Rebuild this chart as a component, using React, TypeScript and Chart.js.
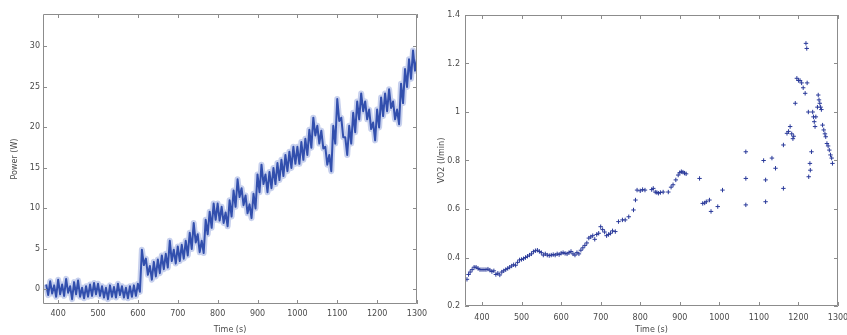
import React, { useEffect, useRef } from 'react';
import { Chart, registerables } from 'chart.js';

Chart.register(...registerables);

// ---------- Data: left panel (power, sampled every 5 s from 370 s) ----------
const POWER_T0 = 370;
const POWER_DT = 5;
const POWER = [
  0.6, -0.7, 1.0, -0.5, 0.5, -0.9, 1.2, -0.6, 0.6, -0.8,
  1.3, -0.4, 0.4, -1.2, 0.9, -0.6, 1.1, -0.9, 0.2, -1.1,
  0.4, -0.9, 0.6, -0.8, 0.8, -0.6, 0.7, -0.8, 0.4, -1.0,
  0.2, -1.2, 0.5, -0.9, 0.3, -1.0, 0.7, -0.7, 0.4, -1.0,
  0.2, -1.1, 0.4, -0.9, 0.5, -0.8, 0.7, -0.3, 4.9, 3.0,
  3.8, 1.8, 2.9, 1.2, 3.4, 1.6, 3.7, 2.0, 4.2, 2.5,
  4.4, 2.7, 6.0, 3.5, 4.9, 3.2, 5.3, 3.5, 5.5, 3.8,
  6.0, 4.2, 7.0, 5.0, 8.2, 5.8, 6.8, 4.6, 6.0, 4.5,
  8.6, 6.8, 9.6, 7.6, 10.6, 8.6, 10.6, 8.5, 10.2, 8.2,
  9.5, 7.8, 11.0, 9.0, 12.2, 10.2, 13.6, 11.4, 12.5, 10.4,
  11.6, 9.4, 10.5, 8.8, 11.8, 10.0, 14.2, 12.0, 15.4, 13.0,
  14.2, 12.0, 14.5, 12.5, 15.0, 13.0, 15.6, 13.5, 16.0, 14.0,
  16.6, 14.6, 17.0, 15.0, 17.6, 15.5, 17.6, 15.5, 18.2, 16.0,
  18.6, 16.6, 19.7, 17.5, 21.2, 19.0, 20.2, 18.0, 19.6, 17.4,
  17.6, 15.4, 16.6, 14.6, 20.2, 18.0, 23.5, 20.8, 21.2, 18.8,
  18.8, 16.6, 20.2, 18.0, 21.8, 19.4, 23.2, 21.0, 24.2, 22.0,
  23.2, 21.0, 22.2, 19.8, 20.6, 18.4, 22.2, 20.0, 23.7, 21.4,
  24.2, 22.0, 24.7, 22.4, 23.2, 21.0, 22.2, 20.4, 25.4, 23.0,
  27.2, 25.0, 28.4, 26.0, 29.5, 27.0, 28.5,
];

// ---------- Data: right panel (VO2 scatter) ----------
const VO2_T = [
  362, 366, 370, 375, 380, 385, 390, 395, 400, 405,
  410, 415, 420, 425, 430, 435, 440, 445, 450, 455,
  460, 465, 470, 475, 480, 485, 490, 495, 500, 505,
  510, 515, 520, 525, 530, 535, 540, 545, 550, 555,
  560, 565, 570, 575, 580, 585, 590, 595, 600, 605,
  610, 615, 620, 625, 630, 635, 640, 645, 650, 655,
  660, 665, 670, 675, 680, 685, 690, 695, 700, 705,
  710, 715, 720, 725, 730, 737, 745, 755, 762, 771,
  783, 788, 792, 800, 806, 812, 829, 833, 838, 842,
  846, 851, 858, 871, 878, 883, 890, 896, 900, 904,
  908, 912, 916, 950, 958, 963, 967, 975, 979, 996,
  1008, 1067, 1067, 1067, 1112, 1117, 1117, 1133, 1142, 1162,
  1162, 1171, 1175, 1179, 1183, 1186, 1188, 1192, 1196, 1200,
  1204, 1208, 1212, 1217, 1219, 1221, 1222, 1225, 1226, 1229,
  1230, 1233, 1236, 1238, 1240, 1242, 1244, 1248, 1250, 1252,
  1254, 1256, 1258, 1261, 1264, 1267, 1269, 1272, 1275, 1278,
  1281, 1284, 1286,
];
const VO2 = [
  0.31, 0.33, 0.34, 0.35, 0.36, 0.36, 0.355, 0.35, 0.35, 0.35,
  0.35, 0.352, 0.348, 0.342, 0.345, 0.33, 0.335, 0.328, 0.34, 0.345,
  0.35, 0.355, 0.36, 0.365, 0.37, 0.368, 0.38, 0.39, 0.392, 0.395,
  0.4, 0.405, 0.41, 0.415, 0.424, 0.428, 0.43, 0.425, 0.42, 0.41,
  0.415, 0.41, 0.408, 0.41, 0.412, 0.41, 0.415, 0.412, 0.418, 0.42,
  0.417, 0.415, 0.42, 0.425, 0.415, 0.41, 0.42, 0.415, 0.43, 0.44,
  0.45, 0.46, 0.48, 0.485, 0.49, 0.475, 0.495, 0.5, 0.527, 0.515,
  0.505, 0.49, 0.495, 0.5, 0.51, 0.507, 0.548, 0.555, 0.555, 0.568,
  0.596, 0.637, 0.678, 0.675, 0.68, 0.678, 0.68, 0.685, 0.67, 0.668,
  0.665, 0.668, 0.67, 0.67, 0.69, 0.7, 0.72, 0.74, 0.75, 0.754,
  0.752, 0.748, 0.745, 0.726, 0.623, 0.625, 0.63, 0.637, 0.59, 0.61,
  0.678, 0.836, 0.726, 0.617, 0.8, 0.72, 0.63, 0.81, 0.768, 0.685,
  0.864, 0.912, 0.92, 0.94, 0.91, 0.89, 0.9, 1.036, 1.139, 1.13,
  1.13, 1.12, 1.1, 1.077, 1.283, 1.262, 1.12, 1.0, 0.733, 0.788,
  0.76, 0.836, 1.0, 0.98, 0.96, 0.94, 0.98, 1.02, 1.07, 1.05,
  1.036, 1.02, 1.01, 0.946, 0.926, 0.91, 0.898, 0.87, 0.86, 0.843,
  0.823, 0.81, 0.788,
];

const X_TICK_STEP = 100;
const POWER_Y_STEP = 5;
const VO2_Y_STEP = 0.2;

const FONT_FAMILY = "'DejaVu Sans', sans-serif";
const TEXT_COLOR = '#4a4a4a';
const FRAME_COLOR = '#8c8c8c';

const plainNumber = (v: any) => String(Math.round(Number(v) * 1000) / 1000);

// MATLAB-like frame: full box with inward tick marks on all four sides
const framePlugin = {
  id: 'matlabFrame',
  afterDatasetsDraw(chart: any) {
    const { ctx, chartArea: a, scales } = chart;
    const x = scales.x;
    const y = scales.y;
    const len = 4;
    ctx.save();
    ctx.strokeStyle = FRAME_COLOR;
    ctx.lineWidth = 1;
    ctx.beginPath();
    ctx.rect(Math.round(a.left) + 0.5, Math.round(a.top) + 0.5, Math.round(a.width) - 1, Math.round(a.height) - 1);
    for (const t of x.ticks) {
      const px = Math.round(x.getPixelForValue(t.value)) + 0.5;
      ctx.moveTo(px, a.bottom);
      ctx.lineTo(px, a.bottom - len);
      ctx.moveTo(px, a.top);
      ctx.lineTo(px, a.top + len);
    }
    for (const t of y.ticks) {
      const py = Math.round(y.getPixelForValue(t.value)) + 0.5;
      ctx.moveTo(a.left, py);
      ctx.lineTo(a.left + len, py);
      ctx.moveTo(a.right, py);
      ctx.lineTo(a.right - len, py);
    }
    ctx.stroke();
    ctx.restore();
  },
};

function baseScales(opts: {
  xMin: number; xMax: number; yMin: number; yMax: number; yStep: number;
  yWidth: number; xHeight: number; yPad: number; xPad: number; yTitle: string; yTitlePad: number;
}) {
  const font = { family: FONT_FAMILY, size: 8 };
  return {
    x: {
      type: 'linear',
      min: opts.xMin,
      max: opts.xMax,
      grid: { display: false, drawTicks: false },
      border: { display: false },
      ticks: {
        stepSize: X_TICK_STEP,
        includeBounds: false,
        autoSkip: false,
        maxRotation: 0,
        color: TEXT_COLOR,
        font,
        padding: opts.xPad,
        callback: plainNumber,
      },
      title: {
        display: true,
        text: 'Time (s)',
        color: TEXT_COLOR,
        font,
        padding: { top: 0, bottom: 0 },
      },
      afterFit: (s: any) => {
        s.height = opts.xHeight;
        s.paddingLeft = 0;
        s.paddingRight = 0;
      },
    },
    y: {
      type: 'linear',
      min: opts.yMin,
      max: opts.yMax,
      grid: { display: false, drawTicks: false },
      border: { display: false },
      ticks: {
        stepSize: opts.yStep,
        includeBounds: false,
        color: TEXT_COLOR,
        font,
        padding: opts.yPad,
        callback: plainNumber,
      },
      title: {
        display: true,
        text: opts.yTitle,
        color: TEXT_COLOR,
        font,
        padding: { top: opts.yTitlePad, bottom: 0 },
      },
      afterFit: (s: any) => {
        s.width = opts.yWidth;
        s.paddingTop = 0;
        s.paddingBottom = 0;
      },
    },
  };
}

function PowerChart() {
  const ref = useRef<HTMLCanvasElement | null>(null);
  useEffect(() => {
    const pts = POWER.map((v, i) => ({ x: POWER_T0 + i * POWER_DT, y: v }));
    const chart = new Chart(ref.current as HTMLCanvasElement, {
      type: 'line',
      data: {
        datasets: [
          {
            data: pts,
            borderColor: 'rgba(70,100,195,0.3)',
            borderWidth: 6,
            borderJoinStyle: 'round',
            pointRadius: 0,
            tension: 0,
          },
          {
            data: pts,
            borderColor: '#2a47a4',
            borderWidth: 2,
            borderJoinStyle: 'round',
            pointRadius: 0,
            tension: 0,
          },
        ],
      },
      options: {
        responsive: false,
        animation: false,
        events: [],
        layout: { padding: { top: 14, right: 23, bottom: 0, left: 0 } },
        plugins: { legend: { display: false }, tooltip: { enabled: false } },
        scales: baseScales({
          xMin: 362, xMax: 1300, yMin: -1.8, yMax: 34, yStep: POWER_Y_STEP,
          yWidth: 43, xHeight: 31, yPad: 3, xPad: 5, yTitle: 'Power (W)', yTitlePad: 10,
        }) as any,
      },
      plugins: [framePlugin],
    });
    return () => chart.destroy();
  }, []);
  return <canvas ref={ref} width={440} height={335} style={{ position: 'absolute', left: 0, top: 0 }} />;
}

function Vo2Chart() {
  const ref = useRef<HTMLCanvasElement | null>(null);
  useEffect(() => {
    const pts = VO2_T.map((t, i) => ({ x: t, y: VO2[i] }));
    const chart = new Chart(ref.current as HTMLCanvasElement, {
      type: 'scatter',
      data: {
        datasets: [
          {
            data: pts,
            pointStyle: 'cross',
            pointRadius: 2.2,
            pointBorderWidth: 1,
            borderColor: '#2a3a9a',
            backgroundColor: '#2a3a9a',
          },
        ],
      },
      options: {
        responsive: false,
        animation: false,
        events: [],
        layout: { padding: { top: 15, right: 9, bottom: 0, left: 0 } },
        plugins: { legend: { display: false }, tooltip: { enabled: false } },
        scales: baseScales({
          xMin: 357, xMax: 1300, yMin: 0.2, yMax: 1.4, yStep: VO2_Y_STEP,
          yWidth: 35, xHeight: 29, yPad: 5, xPad: 7, yTitle: 'VO2 (l/min)', yTitlePad: 7,
        }) as any,
      },
      plugins: [framePlugin],
    });
    return () => chart.destroy();
  }, []);
  return <canvas ref={ref} width={417} height={335} style={{ position: 'absolute', left: 430, top: 0 }} />;
}

export default function App() {
  useEffect(() => {
    document.body.style.margin = '0';
  }, []);
  return (
    <div style={{ position: 'relative', width: 847, height: 335, background: '#fff', overflow: 'hidden' }}>
      <PowerChart />
      <Vo2Chart />
    </div>
  );
}
